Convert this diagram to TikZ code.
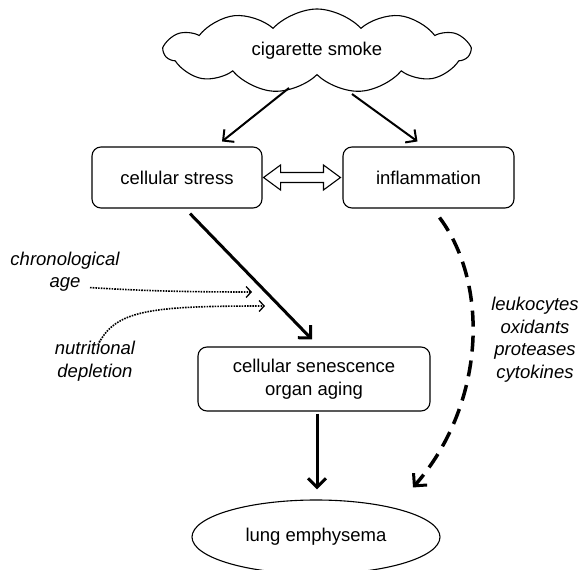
\documentclass[tikz,border=0pt]{standalone}
\usepackage{fontspec}
\setmainfont{Liberation Sans}
\usetikzlibrary{arrows.meta,shapes.symbols,shapes.geometric,calc}

\newcommand{\figfont}{\fontsize{18.5}{22.5}\selectfont}

\tikzset{
  box/.style={draw,line width=1.1pt,rounded corners=9pt,align=center,inner sep=0pt},
  lbl/.style={font=\figfont\itshape,align=center,inner sep=0pt},
  arr/.style={line width=2pt,-{Straight Barb[length=8pt,width=16pt,line width=2pt]}},
  bigarr/.style={line width=3pt,-{Straight Barb[length=9pt,width=18pt,line width=3pt]}},
  dotarr/.style={line width=1.6pt,dash pattern=on 1.6pt off 1.1pt,-{Straight Barb[length=5pt,width=11pt,line width=1.3pt]}},
  dasharr/.style={line width=3.5pt,dash pattern=on 16pt off 9pt,-{Straight Barb[length=9pt,width=18pt,line width=3pt]}},
  hollow/.style={draw,line width=1.1pt,line join=miter,fill=white}
}

\begin{document}
\begin{tikzpicture}[x=1pt,y=-1pt,font=\figfont]
\useasboundingbox (0,0) rectangle (581,570);

\node[cloud,draw,line width=1.1pt,cloud puffs=11,cloud puff arc=95,aspect=3.8,
      minimum width=305pt,minimum height=84pt,inner sep=0pt] (smoke) at (317,51) {cigarette smoke};
\node[box,minimum width=170pt,minimum height=61pt] (stress) at (177,177.5) {cellular stress};
\node[box,minimum width=171pt,minimum height=61pt] (inflam) at (428.5,177.5) {inflammation};
\node[box,minimum width=232pt,minimum height=64pt] (senes) at (314,379) {cellular senescence\\organ aging};
\node[ellipse,draw,line width=1.1pt,minimum width=248pt,minimum height=74pt,inner sep=0pt] (lung) at (316,537) {lung emphysema};

\node[lbl] (chrono) at (65,271.5) {chronological\\age};
\node[lbl] (nutri) at (95,361) {nutritional\\depletion};
\node[lbl] (agents) at (535,339.5) {leukocytes\\oxidants\\proteases\\cytokines};

% smoke to stress and inflammation
\draw[arr] ($(smoke.center)+(-28,37)$) -- ($(stress.north)+(45,-5)$);
\draw[arr] ($(smoke.center)+(35,43)$) -- ($(inflam.north)+(-11,-5)$);

% stress <-> inflammation
\coordinate (dl) at ($(stress.east)+(1,0)$);
\coordinate (dr) at ($(inflam.west)+(-2,0)$);
\draw[hollow] (dl) -- ++(17,-12.5) -- ++(0,7.5) -- ($(dr)+(-17,-5)$) -- ++(0,-7.5) -- (dr)
  -- ++(-17,12.5) -- ++(0,-7.5) -- ($(dl)+(17,5)$) -- ++(0,7.5) -- cycle;

\draw[bigarr] ($(stress.south)+(13,5)$) -- ($(senes.north)+(-2,-7)$);
\draw[bigarr] ($(senes.south)+(3,2)$) -- ($(lung.north)+(1,-10)$);
\draw[dasharr] ($(inflam.south)+(11,9)$) .. controls (490,285) and (485,405) .. ($(lung.north)+(97,-12)$);

% side factors
\draw[dotarr] ($(chrono.south)+(25,-4)$) .. controls (130,290) and (170,292) .. (252,292);
\draw[dotarr] ($(nutri.north)+(3,4)$) .. controls (115,310) and (150,306) .. (265,306);
\end{tikzpicture}
\end{document}
